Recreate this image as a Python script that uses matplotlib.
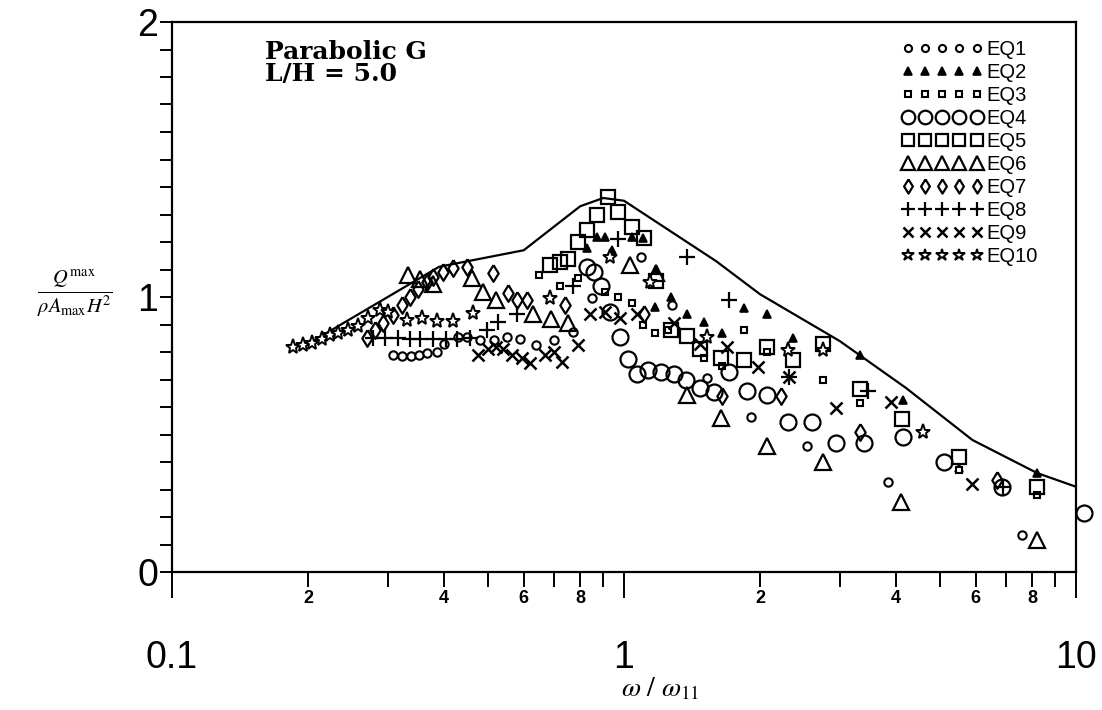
import matplotlib
matplotlib.use("Agg")
from matplotlib import pyplot as plt
from matplotlib.lines import Line2D
import numpy as np

plt.rcParams['mathtext.fontset'] = 'stix'

# envelope curve
curve_x = [0.205, 0.39, 0.6, 0.8, 0.9, 1.0, 1.6, 2.0, 3.0, 4.2, 5.9, 8.2, 10.0]
curve_y = [0.84, 1.11, 1.17, 1.33, 1.36, 1.35, 1.13, 1.01, 0.84, 0.67, 0.48, 0.36, 0.31]

eq1_x = [0.308, 0.323, 0.338, 0.352, 0.367, 0.385, 0.40, 0.43, 0.45, 0.48, 0.515, 0.55,
         0.59, 0.64, 0.70, 0.77, 0.85, 1.09, 1.28, 1.53, 1.91, 2.54, 3.83, 7.6]
eq1_y = [0.79, 0.785, 0.785, 0.79, 0.795, 0.80, 0.83, 0.855, 0.855, 0.845, 0.845, 0.855,
         0.847, 0.825, 0.845, 0.873, 0.996, 1.145, 0.97, 0.705, 0.564, 0.46, 0.327, 0.135]

eq2_x = [0.83, 0.87, 0.91, 0.94, 1.04, 1.1, 1.17, 1.18, 1.27, 1.38, 1.5, 1.65, 1.84, 2.07,
         2.37, 3.33, 4.15, 5.5, 8.2]
eq2_y = [1.18, 1.22, 1.22, 1.17, 1.22, 1.215, 0.965, 1.1, 1.0, 0.94, 0.91, 0.87, 0.96, 0.94,
         0.85, 0.79, 0.625, 0.38, 0.36]

eq3_x = [0.65, 0.72, 0.79, 0.91, 0.97, 1.04, 1.1, 1.17, 1.25, 1.5, 1.65, 1.84, 2.07, 2.75,
         3.33, 5.5, 8.2]
eq3_y = [1.08, 1.04, 1.07, 1.02, 1.0, 0.98, 0.90, 0.87, 0.88, 0.78, 0.75, 0.88, 0.80, 0.70,
         0.615, 0.37, 0.28]

eq4_x = [0.83, 0.86, 0.89, 0.93, 0.98, 1.02, 1.07, 1.13, 1.21, 1.29, 1.37, 1.47, 1.58, 1.71,
         1.87, 2.07, 2.3, 2.6, 2.94, 3.4, 4.15, 5.1, 6.85, 10.4]
eq4_y = [1.11, 1.09, 1.04, 0.945, 0.855, 0.775, 0.72, 0.735, 0.727, 0.72, 0.70, 0.67, 0.655,
         0.727, 0.66, 0.645, 0.545, 0.545, 0.47, 0.47, 0.49, 0.40, 0.31, 0.215]

eq5_x = [0.686, 0.72, 0.75, 0.79, 0.83, 0.87, 0.92, 0.97, 1.04, 1.11, 1.18, 1.27, 1.38, 1.47,
         1.64, 1.84, 2.07, 2.37, 2.75, 3.33, 4.12, 5.5, 8.2]
eq5_y = [1.116, 1.127, 1.14, 1.20, 1.245, 1.30, 1.365, 1.31, 1.255, 1.215, 1.06, 0.88, 0.86,
         0.81, 0.78, 0.77, 0.82, 0.77, 0.83, 0.665, 0.556, 0.42, 0.31]

eq6_x = [0.332, 0.354, 0.378, 0.46, 0.488, 0.52, 0.63, 0.69, 0.75, 1.03, 1.18, 1.38, 1.64,
         2.07, 2.75, 4.1, 8.2]
eq6_y = [1.08, 1.065, 1.047, 1.07, 1.02, 0.99, 0.94, 0.92, 0.905, 1.115, 1.087, 0.645, 0.56,
         0.46, 0.40, 0.255, 0.116]

eq7_x = [0.270, 0.281, 0.293, 0.308, 0.323, 0.336, 0.350, 0.366, 0.378, 0.398, 0.419, 0.449,
         0.513, 0.555, 0.58, 0.61, 0.74, 1.11, 1.65, 2.22, 3.33, 6.67]
eq7_y = [0.851, 0.88, 0.905, 0.935, 0.97, 1.0, 1.03, 1.055, 1.073, 1.09, 1.105, 1.11,
         1.087, 1.015, 0.99, 0.99, 0.97, 0.94, 0.64, 0.64, 0.51, 0.335]

eq8_x = [0.278, 0.296, 0.316, 0.337, 0.354, 0.378, 0.403, 0.428, 0.456, 0.497, 0.526, 0.58,
         0.77, 0.97, 1.38, 1.71, 2.32, 3.46, 6.9]
eq8_y = [0.851, 0.851, 0.851, 0.848, 0.848, 0.848, 0.848, 0.848, 0.851, 0.88, 0.91, 0.94,
         1.04, 1.21, 1.145, 0.99, 0.71, 0.66, 0.31]

eq9_x = [0.475, 0.50, 0.52, 0.54, 0.565, 0.595, 0.62, 0.67, 0.70, 0.73, 0.79, 0.84, 0.91,
         0.98, 1.07, 1.29, 1.47, 1.69, 1.98, 2.32, 2.94, 3.9, 5.88]
eq9_y = [0.79, 0.81, 0.82, 0.81, 0.79, 0.78, 0.76, 0.79, 0.80, 0.765, 0.825, 0.94, 0.945,
         0.925, 0.94, 0.905, 0.83, 0.82, 0.745, 0.71, 0.595, 0.62, 0.32]

eq10_x = [0.185, 0.195, 0.204, 0.215, 0.224, 0.233, 0.245, 0.258, 0.271, 0.288, 0.30, 0.331,
          0.357, 0.385, 0.418, 0.463, 0.685, 0.93, 1.14, 1.53, 2.31, 2.75, 4.58]
eq10_y = [0.818, 0.825, 0.833, 0.847, 0.862, 0.869, 0.88, 0.895, 0.924, 0.953, 0.945, 0.916,
          0.924, 0.913, 0.913, 0.942, 0.996, 1.145, 1.055, 0.855, 0.807, 0.807, 0.51]

x_major = [0.1, 1, 10]
x_major_labels = ["0.1", "1", "10"]
x_minor = [0.2, 0.3, 0.4, 0.5, 0.6, 0.7, 0.8, 0.9, 2, 3, 4, 5, 6, 7, 8, 9]
x_minor_labels = ["2", "", "4", "", "6", "", "8", "", "2", "", "4", "", "6", "", "8", ""]

diamond = [(0, 1), (0.62, 0), (0, -1), (-0.62, 0), (0, 1)]

series = [
    (eq1_x, eq1_y, "EQ1", dict(marker="o", ms=6, mfc="white", mew=1.5)),
    (eq2_x, eq2_y, "EQ2", dict(marker="^", ms=6, mfc="black", mew=1.2)),
    (eq3_x, eq3_y, "EQ3", dict(marker="s", ms=5, mfc="white", mew=1.5)),
    (eq4_x, eq4_y, "EQ4", dict(marker="o", ms=11.5, mfc="none", mew=1.6)),
    (eq5_x, eq5_y, "EQ5", dict(marker="s", ms=10.5, mfc="none", mew=1.6)),
    (eq6_x, eq6_y, "EQ6", dict(marker="^", ms=12, mfc="none", mew=1.6)),
    (eq7_x, eq7_y, "EQ7", dict(marker=diamond, ms=12, mfc="none", mew=1.6)),
    (eq8_x, eq8_y, "EQ8", dict(marker="+", ms=12, mfc="none", mew=1.6)),
    (eq9_x, eq9_y, "EQ9", dict(marker="x", ms=9, mfc="none", mew=1.8)),
    (eq10_x, eq10_y, "EQ10", dict(marker="*", ms=11, mfc="white", mew=1.4)),
]

sans = ["Liberation Sans Narrow", "Liberation Sans", "DejaVu Sans"]

fig = plt.figure(figsize=(11.02, 7.10), dpi=100)
ax = fig.add_axes([172 / 1102, 138 / 710, 904 / 1102, 550 / 710])

ax.plot(curve_x, curve_y, color="black", lw=1.6, zorder=2)

handles = []
for xs, ys, lab, st in series:
    ax.plot(xs, ys, linestyle="none", color="black", mec="black", clip_on=False,
            zorder=3, **st)
    handles.append(Line2D([], [], linestyle="none", color="black", mec="black",
                          label=lab, **st))

ax.set_xscale("log")
ax.set_xlim(0.1, 10)
ax.set_ylim(0, 2)

ax.set_xticks(x_major)
ax.set_xticklabels(x_major_labels, family=sans, fontsize=27)
ax.set_xticks(x_minor, minor=True)
ax.set_xticklabels(x_minor_labels, minor=True, family=sans, fontsize=13,
                   fontweight="bold")
ax.set_yticks([0, 1, 2])
ax.set_yticklabels(["0", "1", "2"], family=sans, fontsize=27)
ax.set_yticks(np.arange(0, 2.01, 0.1), minor=True)

ax.tick_params(axis="x", which="major", direction="out", length=19, width=1.4, pad=30)
ax.tick_params(axis="x", which="minor", direction="out", length=11, width=1.4, pad=2)
ax.tick_params(axis="y", which="both", direction="out", length=9, width=1.4, pad=1)

for sp in ax.spines.values():
    sp.set_linewidth(1.6)

ax.text(0.103, 0.968, "Parabolic G\nL/H = 5.0", transform=ax.transAxes,
        family="DejaVu Serif", fontsize=18, fontweight="bold", va="top",
        linespacing=0.9)

leg = ax.legend(handles=handles, loc="upper right", bbox_to_anchor=(0.958, 0.968),
                numpoints=5, handlelength=4.0, handletextpad=0.2, labelspacing=0.2,
                frameon=False, borderaxespad=0, borderpad=0, markerscale=0.85,
                prop={"family": sans, "size": 14.5})

fig.text(0.068, 0.587, r"$\frac{Q^{\mathrm{max}}}{\rho A_{\mathrm{max}} H^2}$",
         ha="center", va="center", fontsize=21)
fig.text(0.599, 0.03, r"$\omega\ /\ \omega_{11}$", ha="center", va="center", fontsize=20)

fig.savefig("out.png", dpi=100)
